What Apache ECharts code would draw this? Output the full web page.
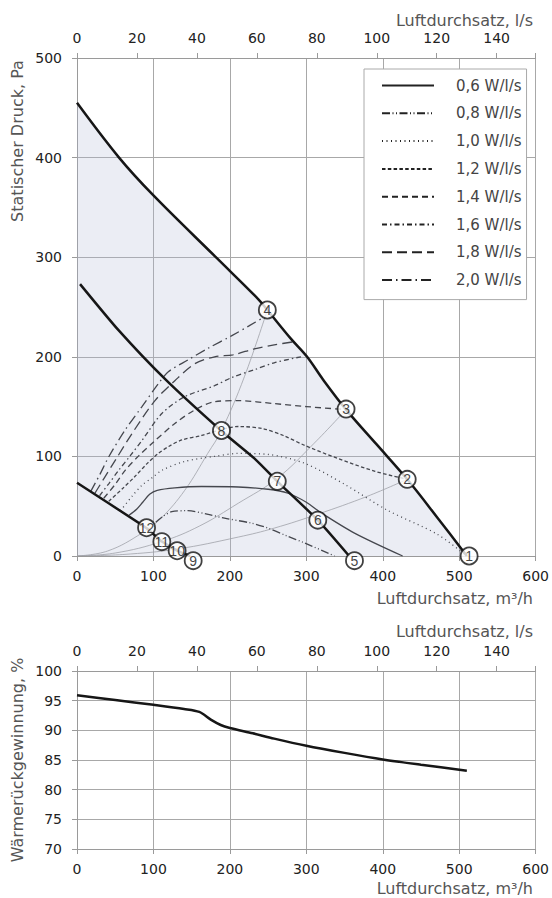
<!DOCTYPE html>
<html>
<head>
<meta charset="utf-8">
<title>Kennlinien</title>
<script src="https://cdn.jsdelivr.net/npm/echarts@6/dist/echarts.min.js"></script>
<style>
  html, body { margin: 0; padding: 0; background: #fff; }
  #chart { width: 552px; height: 898px; }
</style>
</head>
<body>
<div id="chart"></div>
<script>
// Luftdurchsatz in m3/h, statischer Druck in Pa
const sfpNames = ['0,6 W/l/s', '0,8 W/l/s', '1,0 W/l/s', '1,2 W/l/s', '1,4 W/l/s', '1,6 W/l/s', '1,8 W/l/s', '2,0 W/l/s']
const sfp06 = [[68, 41], [78, 47], [86, 54], [95, 62], [105, 66], [128, 68.5], [163, 69.8], [211, 69.3], [250, 67], [276, 63], [300, 54], [320, 43], [363, 23], [426, 0]]
const sfp08 = [[103, 34], [113, 40], [124, 44.5], [145, 45.5], [170, 42], [193, 38], [228, 33], [250, 28], [275, 20], [298, 13], [337, 0]]
const sfp10 = [[57, 45.5], [72, 60], [85, 71], [99, 79], [111, 86], [141, 95], [180, 100], [211, 103], [250, 102], [298, 93], [350, 72], [406, 46], [471, 22], [510, 0]]
const sfp12 = [[41.6, 55], [60, 68], [76, 80], [92, 93], [106.5, 103], [120, 110], [137, 116.5], [163, 121], [189, 127], [211, 130], [242, 128], [270, 121], [298, 111], [341, 98], [390, 85], [432, 77]]
const sfp14 = [[35, 58], [50, 72], [63, 86], [80, 100], [98, 113], [128, 133], [154, 146.6], [180, 155], [211, 156], [258, 153], [300, 150], [352, 147]]
const sfp16 = [[29.5, 60.5], [42, 73], [54.5, 86], [70, 101], [85, 116], [111, 143], [141, 160], [180, 171], [202, 179], [232, 187], [258, 194], [293, 200]]
const sfp18 = [[23.4, 63], [37, 80], [50, 96], [72, 123], [102, 156], [128, 176], [154, 193], [180, 200], [204, 202], [232, 208], [258, 212], [283, 215]]
const sfp20 = [[17.8, 64.6], [30, 82], [41.6, 99.7], [63, 126.5], [85, 150], [106.5, 173], [119.5, 185], [145.5, 197], [171.4, 208.5], [202, 221], [225, 231], [245, 240]]

const outerCurve = [[0, 455], [55, 400], [100, 362], [183, 299], [237, 258], [249, 247], [280, 218], [301, 200], [322, 177], [352, 147], [392, 112], [432, 77], [471, 39], [510, 0]]
const middleCurve = [[4, 273], [54, 227], [116, 177], [189, 125.5], [232, 98], [262, 75], [315, 36], [356, 0]]
const lowerCurve = [[0, 73.5], [91, 28], [111, 14.5], [131, 5.5], [148, 0]]

const systemA = [[0, 0], [40, 5], [85, 23], [110, 38], [141, 66], [171, 103], [189, 126], [219, 180], [249, 247]]
const systemB = [[0, 0], [50, 3], [111, 14.5], [160, 30], [211, 53], [262, 78], [310, 113], [352, 147]]
const systemC = [[0, 0], [60, 1.5], [131, 7], [211, 19], [258, 28], [315, 42], [380, 60], [432, 77]]

const pointNo = ['1', '2', '3', '4', '5', '6', '7', '8', '9', '10', '11', '12']
const pointQ = [513, 432, 352, 249, 363, 315, 262, 189, 152, 131, 111, 91]
const pointP = [0, 77, 147.5, 247, -4.7, 36, 75, 126, -4.7, 5.3, 14.4, 28.4]

// Wärmerückgewinnung in %
const heatRecovery = [[0, 95.9], [50, 95.1], [100, 94.3], [140, 93.6], [160, 93.1], [175, 91.8], [188, 90.9], [200, 90.4], [230, 89.5], [258, 88.6], [300, 87.4], [350, 86.2], [400, 85.1], [450, 84.2], [510, 83.2]]

const font = 'DejaVu Sans'
const gridColor = '#a8a8a8'
const axisColor = '#9a9a9a'

function bottomAxis (grid) {
  return {
    type: 'value', gridIndex: grid, position: 'bottom',
    min: 0, max: 600, interval: 100,
    axisLine: { show: true, lineStyle: { color: axisColor } },
    axisTick: { show: true, length: 5, lineStyle: { color: axisColor } },
    axisLabel: { margin: 13, color: '#222', fontSize: 14, fontFamily: font },
    splitLine: { show: true, lineStyle: { color: gridColor, width: 1 } }
  }
}
function topAxis (grid) {
  return {
    type: 'value', gridIndex: grid, position: 'top',
    min: 0, max: 153, interval: 20,
    axisLine: { show: true, lineStyle: { color: axisColor } },
    axisTick: { show: true, length: 5, lineStyle: { color: axisColor } },
    axisLabel: {
      margin: 13, color: '#222', fontSize: 14, fontFamily: font,
      formatter: v => (v % 20 === 0 ? String(v) : '')
    },
    splitLine: { show: false }
  }
}
function sfpLine (name, data, dash) {
  return {
    name: name, type: 'line', xAxisIndex: 0, yAxisIndex: 0,
    data: data, symbol: 'none', smooth: 0.3, z: 3,
    itemStyle: { color: '#222' },
    lineStyle: { color: '#222', width: 1.3, type: dash }
  }
}
function thickLine (data, smooth, area) {
  const s = {
    type: 'line', xAxisIndex: 0, yAxisIndex: 0, data: data,
    symbol: 'none', smooth: smooth, z: 5,
    lineStyle: { color: '#161616', width: 2.5 }
  }
  if (area) s.areaStyle = { color: 'rgba(175,185,210,0.36)' }
  return s
}
function systemLine (data) {
  return {
    type: 'line', xAxisIndex: 0, yAxisIndex: 0, data: data,
    symbol: 'none', smooth: 0.4, z: 2,
    lineStyle: { color: '#9a9a9a', width: 0.8 }
  }
}
function title (text, x, y, rotate) {
  return {
    type: 'text', x: x, y: y, rotation: rotate ? Math.PI / 2 : 0,
    style: {
      text: text, fill: '#555', font: '16px "' + font + '"',
      textAlign: rotate ? 'center' : 'right', textVerticalAlign: 'middle'
    }
  }
}

const chart = echarts.init(document.getElementById('chart'), null, { renderer: 'svg' })

const points = pointNo.map((n, i) => ({ name: n, value: [pointQ[i], pointP[i]] }))

const option = {
  animation: false,
  backgroundColor: '#fff',
  grid: [
    { left: 77, top: 58, width: 462, height: 498 },
    { left: 77, top: 671, width: 462, height: 178 }
  ],
  xAxis: [bottomAxis(0), topAxis(0), bottomAxis(1), topAxis(1)],
  yAxis: [
    {
      type: 'value', gridIndex: 0, min: 0, max: 500, interval: 100,
      axisLine: { show: true, lineStyle: { color: axisColor } },
      axisTick: { show: true, length: 5, lineStyle: { color: axisColor } },
      axisLabel: { margin: 15, color: '#222', fontSize: 14, fontFamily: font },
      splitLine: { lineStyle: { color: gridColor } }
    },
    {
      type: 'value', gridIndex: 1, min: 70, max: 100, interval: 5,
      axisLine: { show: true, lineStyle: { color: axisColor } },
      axisTick: { show: true, length: 5, lineStyle: { color: axisColor } },
      axisLabel: { margin: 15, color: '#222', fontSize: 14, fontFamily: font },
      splitLine: { lineStyle: { color: gridColor } }
    }
  ],
  legend: {
    data: sfpNames,
    orient: 'vertical',
    left: 364, top: 69,
    padding: [9, 5, 12, 17],
    itemWidth: 52, itemHeight: 14, itemGap: 12.8,
    backgroundColor: '#fff', borderColor: '#aaa', borderWidth: 1,
    selectedMode: false,
    itemStyle: { opacity: 0 },
    textStyle: { color: '#444', fontSize: 15, fontFamily: font, padding: [0, 0, 0, 17] }
  },
  graphic: [
    title('Luftdurchsatz, l/s', 533, 20),
    title('Luftdurchsatz, m³/h', 533, 598),
    title('Statischer Druck, Pa', 17, 141, true),
    title('Luftdurchsatz, l/s', 533, 631),
    title('Luftdurchsatz, m³/h', 533, 888),
    title('Wärmerückgewinnung, %', 17, 760, true)
  ],
  series: [
    thickLine(outerCurve, 0.35, true),
    thickLine(middleCurve, 0.2),
    thickLine(lowerCurve, 0.1),
    systemLine(systemA),
    systemLine(systemB),
    systemLine(systemC),
    sfpLine(sfpNames[0], sfp06, 'solid'),
    sfpLine(sfpNames[1], sfp08, [8, 2.5, 1, 2.5, 1, 2.5]),
    sfpLine(sfpNames[2], sfp10, [1, 3.5]),
    sfpLine(sfpNames[3], sfp12, [3.5, 2.3]),
    sfpLine(sfpNames[4], sfp14, [6, 4]),
    sfpLine(sfpNames[5], sfp16, [5, 3, 1.5, 3]),
    sfpLine(sfpNames[6], sfp18, [10, 5]),
    sfpLine(sfpNames[7], sfp20, [10, 4, 1.5, 4]),
    {
      type: 'scatter', xAxisIndex: 0, yAxisIndex: 0, data: points,
      symbol: 'circle', symbolSize: 17, clip: false, z: 10,
      itemStyle: { color: '#fff', borderColor: '#111', borderWidth: 1.8 },
      label: {
        show: true, position: 'inside', formatter: '{b}',
        color: '#111', textBorderWidth: 0, textBorderColor: 'transparent',
        fontSize: 14, fontFamily: '"Liberation Sans Narrow", sans-serif'
      }
    },
    {
      type: 'line', xAxisIndex: 2, yAxisIndex: 1, data: heatRecovery,
      symbol: 'none', smooth: 0.3,
      lineStyle: { color: '#161616', width: 2.5 }
    }
  ]
}
chart.setOption(option)
</script>
</body>
</html>
